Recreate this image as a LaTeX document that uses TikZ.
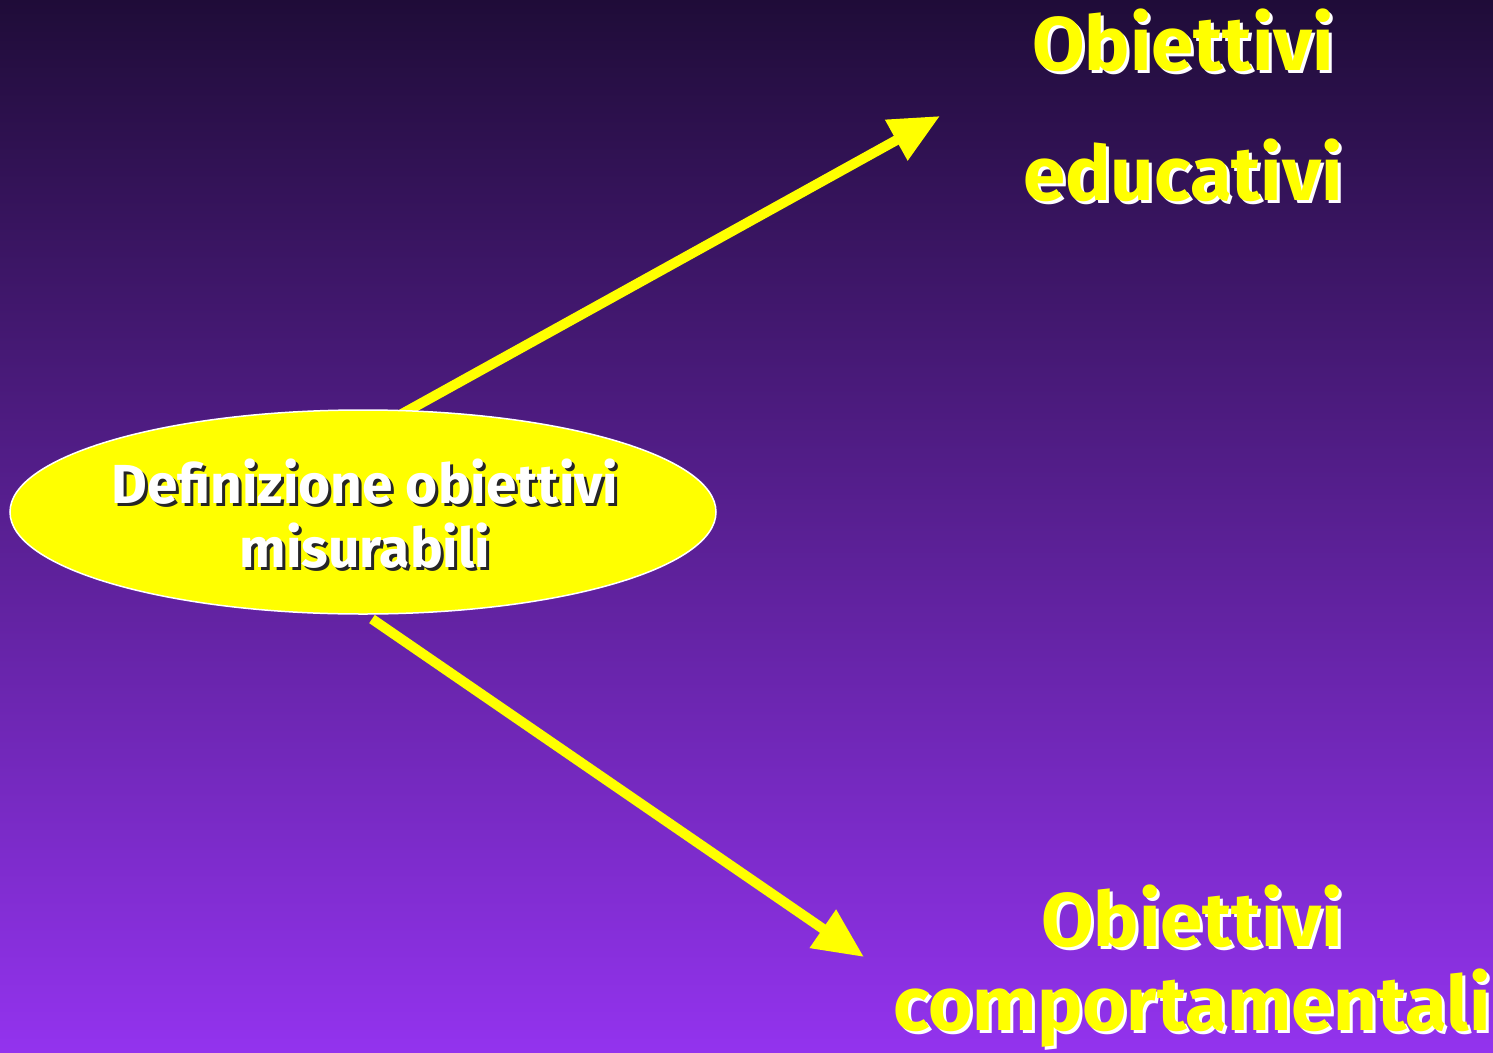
\documentclass[tikz,border=0pt]{standalone}
\usepackage{fontspec}
\setmainfont{Fira Sans}[BoldFont={Fira Sans Bold}]
\usetikzlibrary{shapes.geometric,arrows.meta}
\definecolor{bgtop}{HTML}{1F0C38}
\definecolor{bgbot}{HTML}{9333EE}
\definecolor{yel}{HTML}{FFFF00}
\tikzset{
  bigtxt/.style={anchor=base,inner sep=0pt,font=\bfseries\fontsize{76}{84}\selectfont,text=yel},
  bigshadow/.style={bigtxt,text=white},
  elltxt/.style={anchor=base,inner sep=0pt,font=\bfseries\fontsize{55}{64}\selectfont,text=white},
  ellshadow/.style={elltxt,text=black!85},
  arrowline/.style={draw=yel,line width=10pt,-{Triangle[length=50pt,width=44pt]}},
  bubble/.style={ellipse,fill=yel,draw=white,line width=1.5pt,minimum width=706pt,minimum height=204pt,inner sep=0pt}
}
\begin{document}
\begin{tikzpicture}[x=1pt,y=-1pt]
\useasboundingbox (0,0) rectangle (1493,1052);
\shade[top color=bgtop,bottom color=bgbot] (0,0) rectangle (1493,1052);
% arrows
\coordinate (s1) at (400,415);
\coordinate (t1) at (940,116);
\coordinate (s2) at (372,619);
\coordinate (t2) at (864,957);
\draw[arrowline] (s1) -- (t1);
\draw[arrowline] (s2) -- (t2);
% ellipse
\node[bubble] (e) at (363,512) {};
\node[ellshadow] (d1s) at (368,506) {Definizione obiettivi};
\node[elltxt] (d1) at (365,503) {Definizione obiettivi};
\node[ellshadow] (d2s) at (368,570) {misurabili};
\node[elltxt] (d2) at (365,567) {misurabili};
% top texts
\node[bigshadow] (o1s) at (1186,73) {Obiettivi};
\node[bigtxt] (o1) at (1183,70) {Obiettivi};
\node[bigshadow] (e1s) at (1186,203) {educativi};
\node[bigtxt] (e1) at (1183,200) {educativi};
% bottom texts
\node[bigshadow] (o2s) at (1195,949) {Obiettivi};
\node[bigtxt] (o2) at (1192,946) {Obiettivi};
\node[bigshadow] (c2s) at (1195,1033) {comportamentali};
\node[bigtxt] (c2) at (1192,1030) {comportamentali};
\end{tikzpicture}
\end{document}
